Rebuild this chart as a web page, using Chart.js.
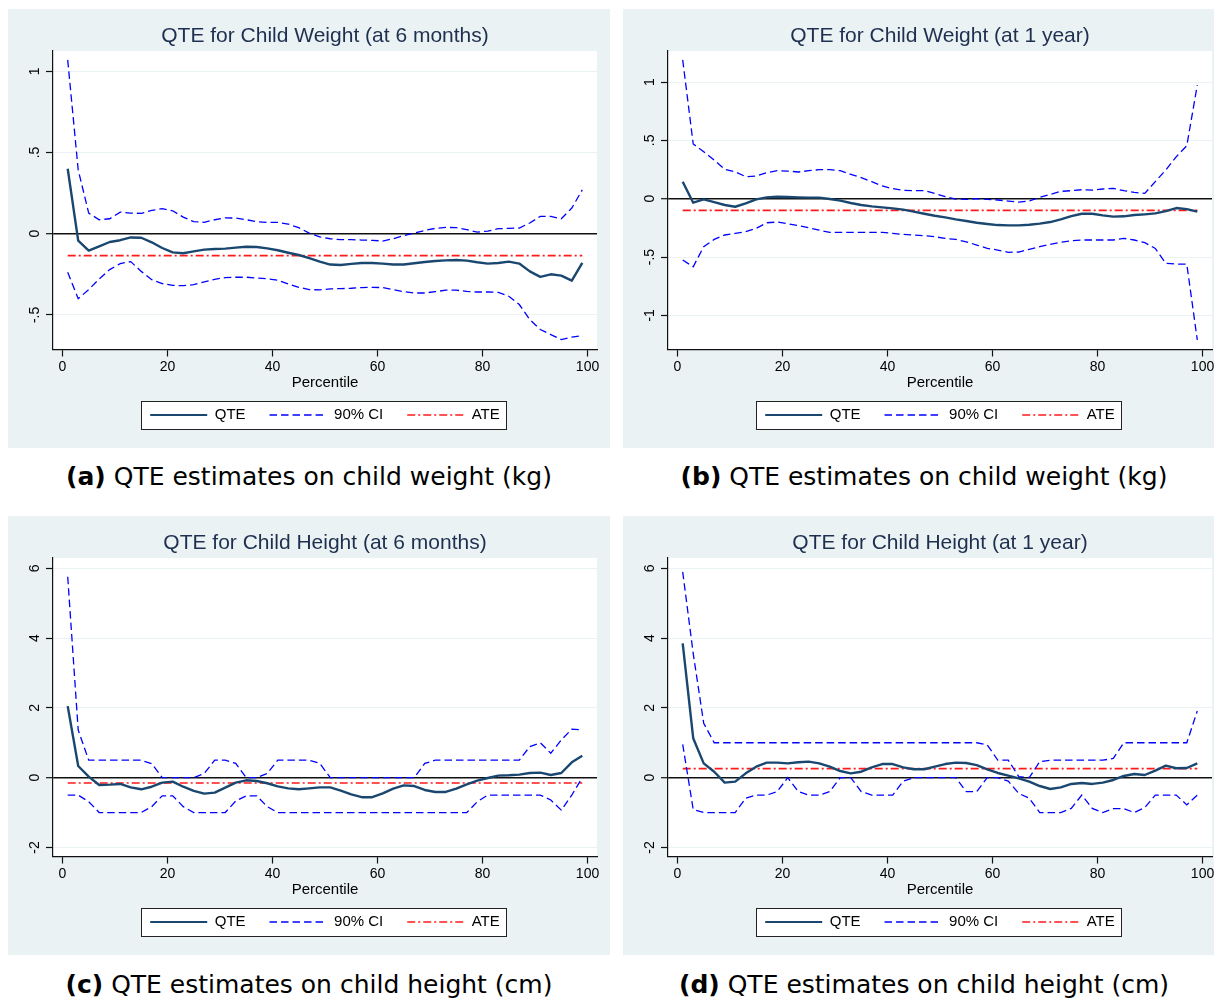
<!DOCTYPE html>
<html><head><meta charset="utf-8">
<script src="https://cdn.jsdelivr.net/npm/chart.js@4.4.1/dist/chart.umd.min.js"></script>
<style>
html,body{margin:0;padding:0;background:#fff;overflow:hidden;width:1214px;height:1001px;position:relative;}
.panel{position:absolute;width:602px;height:439px;background:#eaf2f3;}
.panel canvas{display:block;}
.cap{position:absolute;width:602px;text-align:center;font-family:'DejaVu Sans',sans-serif;font-size:25px;color:#000;line-height:30px;white-space:nowrap;}
.cap b{font-weight:bold;}
</style></head><body>
<div class="panel" style="left:8px;top:9px"><canvas id="ca" width="602" height="439"></canvas></div>
<div class="panel" style="left:623px;top:9px"><canvas id="cb" width="602" height="439"></canvas></div>
<div class="panel" style="left:8px;top:516px"><canvas id="cc" width="602" height="439"></canvas></div>
<div class="panel" style="left:623px;top:516px"><canvas id="cd" width="602" height="439"></canvas></div>
<div class="cap" style="left:8px;top:462px"><b>(a)</b> QTE estimates on child weight (kg)</div>
<div class="cap" style="left:623px;top:462px"><b>(b)</b> QTE estimates on child weight (kg)</div>
<div class="cap" style="left:8px;top:970px"><b>(c)</b> QTE estimates on child height (cm)</div>
<div class="cap" style="left:623px;top:970px"><b>(d)</b> QTE estimates on child height (cm)</div>
<script>
const percentiles = [1,3,5,7,9,11,13,15,17,19,21,23,25,27,29,31,33,35,37,39,41,43,45,47,49,51,53,55,57,59,61,63,65,67,69,71,73,75,77,79,81,83,85,87,89,91,93,95,97,99];

// (a) Child weight at 6 months
const qteA = [0.40,-0.043,-0.104,-0.078,-0.051,-0.04,-0.023,-0.025,-0.053,-0.088,-0.115,-0.12,-0.109,-0.098,-0.094,-0.092,-0.086,-0.080,-0.082,-0.09,-0.102,-0.117,-0.131,-0.15,-0.172,-0.19,-0.193,-0.186,-0.18,-0.18,-0.184,-0.19,-0.19,-0.182,-0.174,-0.168,-0.164,-0.162,-0.166,-0.176,-0.184,-0.18,-0.172,-0.184,-0.232,-0.266,-0.25,-0.258,-0.289,-0.18];
const ciUpA = [1.07,0.393,0.127,0.086,0.092,0.133,0.127,0.125,0.143,0.154,0.141,0.102,0.074,0.07,0.086,0.098,0.096,0.086,0.074,0.07,0.07,0.059,0.037,0.004,-0.02,-0.031,-0.037,-0.037,-0.039,-0.041,-0.045,-0.031,-0.012,0.004,0.02,0.033,0.039,0.037,0.025,0.01,0.016,0.031,0.033,0.035,0.066,0.107,0.107,0.092,0.158,0.27];
const ciLoA = [-0.238,-0.40,-0.344,-0.279,-0.221,-0.184,-0.172,-0.232,-0.283,-0.307,-0.318,-0.32,-0.314,-0.297,-0.281,-0.27,-0.268,-0.268,-0.273,-0.277,-0.287,-0.309,-0.33,-0.344,-0.346,-0.34,-0.338,-0.336,-0.332,-0.33,-0.332,-0.344,-0.357,-0.365,-0.365,-0.357,-0.348,-0.348,-0.355,-0.359,-0.359,-0.361,-0.385,-0.436,-0.529,-0.59,-0.621,-0.652,-0.637,-0.627];
const ateA = -0.135;

// (b) Child weight at 1 year
const qteB = [0.146,-0.034,-0.006,-0.029,-0.054,-0.069,-0.04,-0.006,0.011,0.017,0.014,0.011,0.009,0.009,-0.003,-0.017,-0.037,-0.054,-0.066,-0.074,-0.083,-0.094,-0.111,-0.129,-0.146,-0.16,-0.177,-0.191,-0.206,-0.217,-0.226,-0.229,-0.229,-0.223,-0.214,-0.2,-0.177,-0.149,-0.129,-0.129,-0.143,-0.154,-0.151,-0.14,-0.134,-0.126,-0.106,-0.08,-0.089,-0.111];
const ciUpB = [1.19,0.469,0.403,0.331,0.251,0.231,0.189,0.194,0.223,0.24,0.237,0.229,0.24,0.249,0.249,0.24,0.209,0.18,0.146,0.109,0.086,0.071,0.069,0.069,0.046,0.017,-0.003,-0.006,0,-0.006,-0.011,-0.02,-0.029,-0.02,0.011,0.037,0.063,0.069,0.077,0.074,0.083,0.089,0.069,0.054,0.046,0.146,0.246,0.36,0.454,0.974];
const ciLoB = [-0.526,-0.583,-0.411,-0.349,-0.311,-0.297,-0.283,-0.254,-0.206,-0.2,-0.214,-0.231,-0.249,-0.269,-0.289,-0.289,-0.289,-0.289,-0.289,-0.289,-0.297,-0.306,-0.311,-0.317,-0.326,-0.34,-0.349,-0.369,-0.397,-0.426,-0.44,-0.46,-0.457,-0.434,-0.411,-0.391,-0.374,-0.36,-0.354,-0.354,-0.354,-0.354,-0.34,-0.354,-0.377,-0.426,-0.554,-0.56,-0.56,-1.211];
const ateB = -0.10;

// (c) Child height at 6 months
const qteC = [2.05,0.334,0.03,-0.21,-0.2,-0.18,-0.28,-0.334,-0.26,-0.143,-0.115,-0.26,-0.38,-0.458,-0.43,-0.287,-0.143,-0.076,-0.096,-0.16,-0.25,-0.306,-0.334,-0.306,-0.28,-0.28,-0.37,-0.48,-0.56,-0.56,-0.45,-0.315,-0.22,-0.24,-0.353,-0.41,-0.41,-0.315,-0.19,-0.086,-0.01,0.057,0.067,0.086,0.134,0.143,0.076,0.134,0.44,0.63];
const ciUpC = [5.76,1.366,0.5,0.5,0.5,0.5,0.5,0.5,0.4,0,0,0,0,0.12,0.5,0.5,0.41,0,0,0.12,0.5,0.5,0.5,0.5,0.41,0,0,0,0,0,0,0,0,0,0.41,0.5,0.5,0.5,0.5,0.5,0.5,0.5,0.5,0.5,0.89,1.0,0.7,1.08,1.39,1.366];
const ciLoC = [-0.5,-0.5,-0.69,-1,-1,-1,-1,-1,-0.83,-0.52,-0.52,-0.83,-1,-1,-1,-1,-0.67,-0.52,-0.52,-0.83,-1,-1,-1,-1,-1,-1,-1,-1,-1,-1,-1,-1,-1,-1,-1,-1,-1,-1,-1,-0.69,-0.5,-0.5,-0.5,-0.5,-0.5,-0.5,-0.64,-0.93,-0.5,0];
const ateC = -0.153;

// (d) Child height at 1 year
const qteD = [3.85,1.13,0.41,0.17,-0.143,-0.115,0.124,0.315,0.43,0.43,0.41,0.44,0.458,0.41,0.315,0.19,0.124,0.17,0.296,0.39,0.39,0.296,0.24,0.24,0.315,0.39,0.43,0.42,0.36,0.24,0.134,0.057,-0.02,-0.115,-0.24,-0.325,-0.28,-0.18,-0.153,-0.18,-0.143,-0.067,0.048,0.105,0.076,0.2,0.344,0.27,0.277,0.41];
const ciUpD = [5.9,3.56,1.56,1,1,1,1,1,1,1,1,1,1,1,1,1,1,1,1,1,1,1,1,1,1,1,1,1,1,0.94,0.5,0.5,0.03,0,0.46,0.5,0.5,0.5,0.5,0.5,0.5,0.55,1,1,1,1,1,1,1,1.91];
const ciLoD = [0.955,-0.91,-1,-1,-1,-1,-0.59,-0.5,-0.5,-0.4,0,-0.4,-0.5,-0.5,-0.4,0,0,-0.4,-0.5,-0.5,-0.5,-0.1,0,0,0,0,0,-0.4,-0.4,0,0,-0.1,-0.45,-0.59,-1,-1,-1,-0.88,-0.5,-0.88,-1,-0.89,-0.89,-1,-0.86,-0.5,-0.5,-0.5,-0.78,-0.5];
const ateD = 0.258;

// ticks
const xTickVals = [0,20,40,60,80,100];
const yTicksA = [-0.5,0,0.5,1];      const yLabelsA = ['-.5','0','.5','1'];
const yTicksB = [-1,-0.5,0,0.5,1];   const yLabelsB = ['-1','-.5','0','.5','1'];
const yTicksC = [-2,0,2,4,6];        const yLabelsC = ['-2','0','2','4','6'];
const yTicksD = [-2,0,2,4,6];        const yLabelsD = ['-2','0','2','4','6'];

const FONT = "'Liberation Sans', Arial, Helvetica, sans-serif";
const GRAPH_BG = '#eaf2f3';

const panelDeco = {
  id: 'panelDeco',
  beforeDraw(chart) {
    const {ctx, chartArea: a} = chart;
    ctx.save();
    ctx.fillStyle = '#ffffff';
    ctx.fillRect(a.left, a.top, a.right - a.left, a.bottom - a.top);
    const hb = chart.legend && chart.legend.legendHitBoxes;
    if (hb && hb.length) {
      const first = hb[0], last = hb[hb.length - 1];
      const x0 = Math.round(first.left - 9) + 0.5;
      const x1 = Math.round(last.left + last.width + 6) + 0.5;
      const yc = first.top + first.height / 2;
      const y0 = Math.round(yc - 14) + 0.5, y1 = Math.round(yc + 14) + 0.5;
      ctx.fillRect(x0, y0, x1 - x0, y1 - y0);
      ctx.strokeStyle = '#222';
      ctx.lineWidth = 1;
      ctx.strokeRect(x0, y0, x1 - x0, y1 - y0);
    }
    ctx.restore();
  }
};

function xy(vals) { return percentiles.map((p, i) => ({x: p, y: vals[i]})); }

function labelPad(labels) {
  const m = document.createElement('canvas').getContext('2d');
  m.font = '14px ' + FONT;
  let w = 0;
  labels.forEach(l => { w = Math.max(w, m.measureText(l).width); });
  return 45 - 7 - 27 - w / 2;
}

function makeChart(id, title, qte, up, lo, ate, yMin, yMax, yTicks, yLabels) {
  const n = percentiles.length;
  new Chart(document.getElementById(id), {
    type: 'line',
    data: {
      datasets: [
        {label: 'QTE', data: xy(qte), borderColor: '#1a476f', borderWidth: 2.4, pointRadius: 0, tension: 0, fill: false, borderJoinStyle: 'round'},
        {label: '90% CI', data: xy(up), borderColor: '#0000ff', borderWidth: 1.3, borderDash: [7.5, 4], pointRadius: 0, tension: 0, fill: false},
        {label: '90% CI lower', legendHide: true, data: xy(lo), borderColor: '#0000ff', borderWidth: 1.3, borderDash: [7.5, 4], pointRadius: 0, tension: 0, fill: false},
        {label: 'ATE', data: [{x: percentiles[0], y: ate}, {x: percentiles[n - 1], y: ate}], borderColor: '#ff1a1a', borderWidth: 1.7, borderDash: [8, 3, 2, 3], pointRadius: 0, tension: 0, fill: false}
      ]
    },
    options: {
      responsive: false,
      animation: false,
      events: [],
      layout: {padding: {left: 0, right: 13, top: 0, bottom: 15.5}},
      plugins: {
        title: {display: true, text: title, fullSize: false, color: '#1e2f50', font: {family: FONT, size: 21, weight: 'normal'}, padding: {top: 14.7, bottom: 2.1}},
        legend: {
          position: 'bottom', fullSize: false,
          labels: {
            usePointStyle: true, pointStyle: 'line', pointStyleWidth: 57, padding: 24, color: '#000',
            font: {family: FONT, size: 15},
            generateLabels: (chart) => chart.data.datasets.map((ds, i) => ({
              text: ds.label, datasetIndex: i, hidden: false,
              strokeStyle: ds.borderColor, fillStyle: ds.borderColor,
              lineWidth: Math.min(ds.borderWidth, 2), lineDash: ds.borderDash || [],
              pointStyle: 'line', fontColor: '#000', lineCap: 'butt'
            })).filter(it => !chart.data.datasets[it.datasetIndex].legendHide)
          }
        },
        tooltip: {enabled: false}
      },
      scales: {
        x: {
          type: 'linear', min: -1.8, max: 101.8,
          afterBuildTicks: s => { s.ticks = xTickVals.map(v => ({value: v})); },
          afterFit: s => { s.height = 34; },
          ticks: {color: '#000', font: {family: FONT, size: 14}, padding: 2, maxRotation: 0, autoSkip: false, callback: (v, i) => String(xTickVals[i])},
          grid: {display: true, drawOnChartArea: false, drawTicks: true, tickLength: 7, tickColor: '#111', tickWidth: 1.2},
          border: {display: true, color: '#111', width: 1.2},
          title: {display: true, text: 'Percentile', color: '#000', font: {family: FONT, size: 15}, padding: {top: 0, bottom: -8.2}}
        },
        y: {
          type: 'linear', min: yMin, max: yMax,
          afterBuildTicks: s => { s.ticks = yTicks.map(v => ({value: v})); },
          afterFit: s => { s.width = 45; },
          ticks: {color: '#000', font: {family: FONT, size: 14}, minRotation: 90, maxRotation: 90, crossAlign: 'center', padding: labelPad(yLabels), autoSkip: false, callback: (v, i) => yLabels[i]},
          grid: {
            color: c => (c.tick && c.tick.value === 0) ? '#111' : GRAPH_BG,
            lineWidth: c => (c.tick && c.tick.value === 0) ? 1.4 : 1,
            tickColor: '#111', tickLength: 7, tickWidth: 1.2, drawTicks: true, drawOnChartArea: true
          },
          border: {display: true, color: '#111', width: 1.2}
        }
      }
    },
    plugins: [panelDeco]
  });
}

makeChart('ca', 'QTE for Child Weight (at 6 months)', qteA, ciUpA, ciLoA, ateA, -0.713, 1.125, yTicksA, yLabelsA);
makeChart('cb', 'QTE for Child Weight (at 1 year)', qteB, ciUpB, ciLoB, ateB, -1.2925, 1.266, yTicksB, yLabelsB);
makeChart('cc', 'QTE for Child Height (at 6 months)', qteC, ciUpC, ciLoC, ateC, -2.26, 6.296, yTicksC, yLabelsC);
makeChart('cd', 'QTE for Child Height (at 1 year)', qteD, ciUpD, ciLoD, ateD, -2.26, 6.296, yTicksD, yLabelsD);
</script>
</body></html>
